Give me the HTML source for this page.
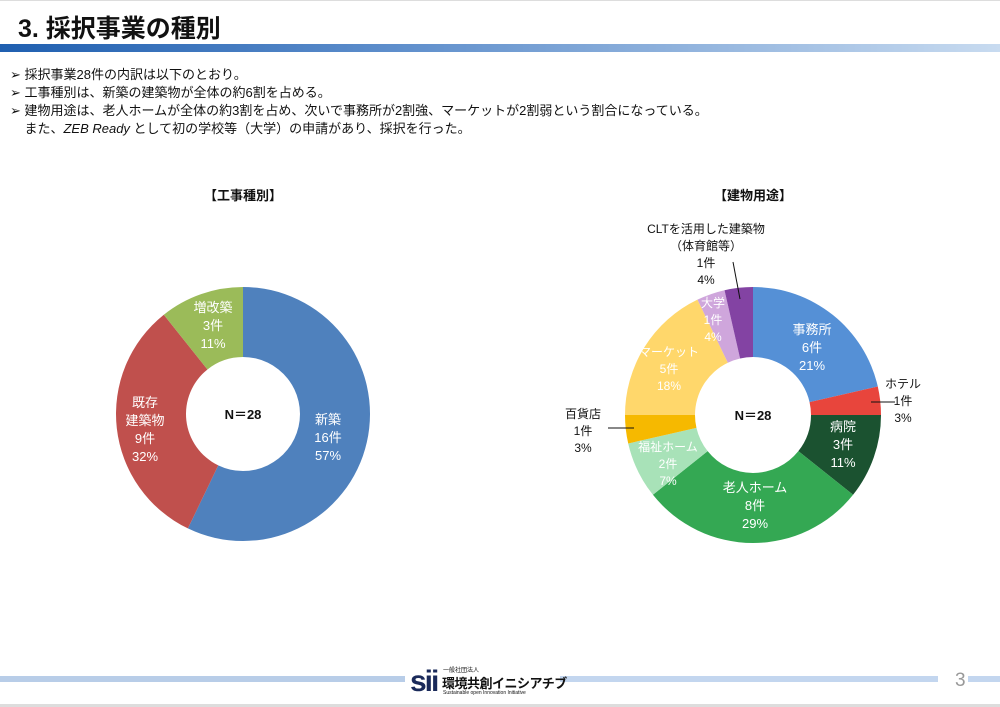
<!DOCTYPE html>
<html><head><meta charset="utf-8">
<style>
body{margin:0;width:1000px;height:707px;background:#fff;font-family:"Liberation Sans","Noto Sans CJK JP",sans-serif;position:relative;overflow:hidden}
.t{position:absolute;white-space:nowrap}
</style></head><body>
<div style="position:absolute;left:0;top:0;width:1000px;height:1px;background:#ddd"></div>
<div class="t" style="left:18px;top:9px;font-size:25px;font-weight:bold;color:#111">3. 採択事業の種別</div>
<div style="position:absolute;left:0;top:44px;width:1000px;height:8px;background:linear-gradient(90deg,#1f5fb0,#5f8fcc 40%,#c8dbf0)"></div>
<div class="t" style="left:10px;top:66px;font-size:13px;line-height:18px;color:#111">
➢ 採択事業28件の内訳は以下のとおり。<br>➢ 工事種別は、新築の建築物が全体の約6割を占める。<br>➢ 建物用途は、老人ホームが全体の約3割を占め、次いで事務所が2割強、マーケットが2割弱という割合になっている。<br>&nbsp;&nbsp;&nbsp;&nbsp;また、<i>ZEB Ready</i> として初の学校等（大学）の申請があり、採択を行った。</div>
<svg id="s" width="1000" height="707" style="position:absolute;left:0;top:0" font-family="Liberation Sans, Noto Sans CJK JP, sans-serif"></svg>
<div style="position:absolute;left:0;top:676px;width:405px;height:6px;background:#b8cde8"></div>
<div style="position:absolute;left:560px;top:676px;width:378px;height:6px;background:#c3d6ef"></div>
<div style="position:absolute;left:968px;top:676px;width:32px;height:6px;background:#c3d6ef"></div>
<div class="t" style="left:410px;top:665px;font-size:30px;font-weight:bold;color:#1a2a5a;letter-spacing:-2px">sii</div>
<div class="t" style="left:443px;top:665px;font-size:6px;color:#111">一般社団法人</div>
<div class="t" style="left:442px;top:673px;font-size:13px;font-weight:bold;color:#111;letter-spacing:-0.5px">環境共創イニシアチブ</div>
<div class="t" style="left:443px;top:690px;font-size:5px;color:#111">Sustainable open Innovation Initiative</div>
<div class="t" style="left:955px;top:670px;font-size:19px;color:#999">3</div>
<div style="position:absolute;left:0;top:704px;width:1000px;height:3px;background:#ddd"></div>
<script>
const s=document.getElementById('s');let h='';
function donut(cx,cy,R,r,data){let a=0;const T=data.reduce((x,d)=>x+d[0],0);
for(const d of data){const a0=a/T*2*Math.PI,a1=(a+d[0])/T*2*Math.PI;a+=d[0];
const p=(ang,rr)=>[(cx+rr*Math.sin(ang)).toFixed(2),(cy-rr*Math.cos(ang)).toFixed(2)];
const L=(a1-a0)>Math.PI?1:0;const [x0,y0]=p(a0,R),[x1,y1]=p(a1,R),[x2,y2]=p(a1,r),[x3,y3]=p(a0,r);
h+=`<path d="M${x0} ${y0}A${R} ${R} 0 ${L} 1 ${x1} ${y1}L${x2} ${y2}A${r} ${r} 0 ${L} 0 ${x3} ${y3}Z" fill="${d[1]}"/>`;}}
donut(243,414,127,57,[[16,'#4f81bd'],[9,'#c0504d'],[3,'#9bbb59']]);
donut(753,415,128,58,[[6,'#5590d6'],[1,'#e8453c'],[3,'#1b5230'],[8,'#34a853'],[2,'#a8e2b8'],[1,'#f6b900'],[5,'#ffd76b'],[1,'#cfa6dc'],[1,'#8343a3']]);
function tx(x,y,lines,c,sz,w){lines.forEach((t,i)=>{h+=`<text x="${x}" y="${y+i*(sz+5)}" fill="${c}" font-size="${sz}" text-anchor="middle" ${w?'font-weight="bold"':''}>${t}</text>`})}
tx(243,200,['【工事種別】'],'#111',13,1);tx(753,200,['【建物用途】'],'#111',13,1);
tx(243,419,['N＝28'],'#111',13,1);tx(753,420,['N＝28'],'#111',13,1);
tx(328,424,['新築','16件','57%'],'#fff',13);
tx(145,407,['既存','建築物','9件','32%'],'#fff',13);
tx(213,312,['増改築','3件','11%'],'#fff',13);
tx(812,334,['事務所','6件','21%'],'#fff',13);
tx(843,431,['病院','3件','11%'],'#fff',13);
tx(755,492,['老人ホーム','8件','29%'],'#fff',13);
tx(668,451,['福祉ホーム','2件','7%'],'#fff',12);
tx(669,356,['マーケット','5件','18%'],'#fff',12);
tx(713,307,['大学','1件','4%'],'#fff',12);
tx(706,233,['CLTを活用した建築物','（体育館等）','1件','4%'],'#111',12);
tx(903,388,['ホテル','1件','3%'],'#111',12);
tx(583,418,['百貨店','1件','3%'],'#111',12);
h+='<line x1="733" y1="262" x2="740" y2="299" stroke="#111"/><line x1="871" y1="402" x2="895" y2="402" stroke="#111"/><line x1="608" y1="428" x2="634" y2="428" stroke="#111"/>';
s.innerHTML=h;
</script>
</body></html>
